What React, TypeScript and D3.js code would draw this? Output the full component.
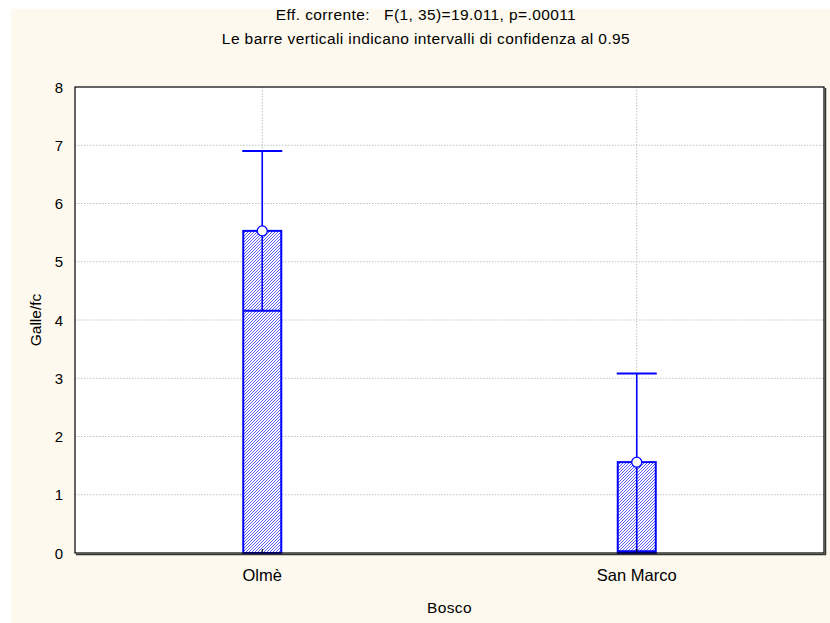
import * as d3 from "d3";
import React from "react";

const categories = ["Olmè", "San Marco"];
const means = [5.53, 1.56];
const ciLower = [4.16, 0.03];
const ciUpper = [6.9, 3.08];
const yTicks = [0, 1, 2, 3, 4, 5, 6, 7, 8];

const titleLines = [
  "Eff. corrente:   F(1, 35)=19.011, p=.00011",
  "Le barre verticali indicano intervalli di confidenza al 0.95",
];

export default function App() {
  const width = 830;
  const height = 623;
  const pad = { top: 87, right: 6, bottom: 70, left: 75 };
  const innerW = width - pad.left - pad.right;
  const innerH = height - pad.top - pad.bottom;

  const x = d3.scaleBand().domain(categories).range([0, innerW]).padding(0);
  const y = d3.scaleLinear().domain([0, 8]).range([innerH, 0]);
  const barW = 38;
  const font = "'Liberation Sans', Arial, sans-serif";

  const rows = categories.map((c, i) => ({
    cat: c,
    mean: means[i],
    lo: ciLower[i],
    hi: ciUpper[i],
  }));

  return (
    <svg
      width={width}
      height={height}
      style={{ position: "absolute", left: 0, top: 0 }}
      fontFamily={font}
    >
      <defs>
        <pattern id="hatch" width="3" height="3" patternUnits="userSpaceOnUse">
          <rect width="3" height="3" fill="#ffffff" />
          <path
            d="M-1,1 l2,-2 M0,3 l3,-3 M2,4 l2,-2"
            stroke="#5c5cf6"
            strokeWidth="1"
          />
        </pattern>
      </defs>
      <rect x={0} y={0} width={width} height={height} fill="#ffffff" />
      <rect x={11} y={9} width={width - 11} height={height - 9} fill="#fdf9ee" />

      {titleLines.map((t, i) => (
        <text
          key={i}
          x={426}
          y={20 + i * 24}
          textAnchor="middle"
          fontSize="15.5"
          letterSpacing="0.4"
          fill="#000"
          style={{ whiteSpace: "pre" }}
        >
          {t}
        </text>
      ))}

      <g transform={`translate(${pad.left},${pad.top})`}>
        <rect x={0} y={0} width={innerW} height={innerH} fill="#ffffff" />

        {yTicks.slice(1, -1).map((t) => (
          <line
            key={t}
            x1={0}
            x2={innerW}
            y1={y(t)}
            y2={y(t)}
            stroke="#c0c0c0"
            strokeDasharray="1.5,1.5"
          />
        ))}
        {categories.map((c) => {
          const cx = (x(c) ?? 0) + x.bandwidth() / 2;
          return (
            <line
              key={c}
              x1={cx}
              x2={cx}
              y1={0}
              y2={innerH}
              stroke="#c0c0c0"
              strokeDasharray="1.5,1.5"
            />
          );
        })}

        {rows.map((d) => {
          const cx = (x(d.cat) ?? 0) + x.bandwidth() / 2;
          return (
            <g key={d.cat}>
              <rect
                x={cx - barW / 2}
                y={y(d.mean)}
                width={barW}
                height={innerH - y(d.mean)}
                fill="url(#hatch)"
                stroke="#0000ff"
                strokeWidth="2"
              />
              <line
                x1={cx - barW / 2}
                x2={cx + barW / 2}
                y1={y(d.lo)}
                y2={y(d.lo)}
                stroke="#0000ff"
                strokeWidth="2"
              />
              <line
                x1={cx}
                x2={cx}
                y1={y(d.lo)}
                y2={y(d.hi)}
                stroke="#0000ff"
                strokeWidth="1.6"
              />
              <line
                x1={cx - barW / 2 - 1}
                x2={cx + barW / 2 + 1}
                y1={y(d.hi)}
                y2={y(d.hi)}
                stroke="#0000ff"
                strokeWidth="2"
              />
              <circle
                cx={cx}
                cy={y(d.mean)}
                r={5}
                fill="#ffffff"
                stroke="#0000ff"
                strokeWidth="1.3"
              />
            </g>
          );
        })}

        {categories.map((c) => {
          const cx = (x(c) ?? 0) + x.bandwidth() / 2;
          return (
            <g key={c}>
              <line x1={cx} x2={cx} y1={innerH} y2={innerH - 4} stroke="#000" />
              <text
                x={cx}
                y={innerH + 28}
                textAnchor="middle"
                fontSize="16.5"
                fill="#000"
              >
                {c}
              </text>
            </g>
          );
        })}

        {yTicks.map((t) => (
          <text
            key={t}
            x={-12}
            y={y(t) + 5.5}
            textAnchor="end"
            fontSize="15"
            fill="#000"
          >
            {t}
          </text>
        ))}

        <rect
          x={0}
          y={0}
          width={innerW}
          height={innerH}
          fill="none"
          stroke="#000"
          strokeWidth="1.2"
        />
        <line
          x1={innerW + 1.5}
          x2={innerW + 1.5}
          y1={1}
          y2={innerH + 2}
          stroke="#333"
          strokeWidth="1.5"
        />
        <line
          x1={1}
          x2={innerW + 2}
          y1={innerH + 1.5}
          y2={innerH + 1.5}
          stroke="#333"
          strokeWidth="1.5"
        />
      </g>

      <text
        transform={`translate(41,${pad.top + innerH / 2}) rotate(-90)`}
        textAnchor="middle"
        fontSize="15.5"
        fill="#000"
      >
        Galle/fc
      </text>
      <text
        x={pad.left + innerW / 2}
        y={613}
        textAnchor="middle"
        fontSize="15.5"
        letterSpacing="0.4"
        fill="#000"
      >
        Bosco
      </text>
    </svg>
  );
}
